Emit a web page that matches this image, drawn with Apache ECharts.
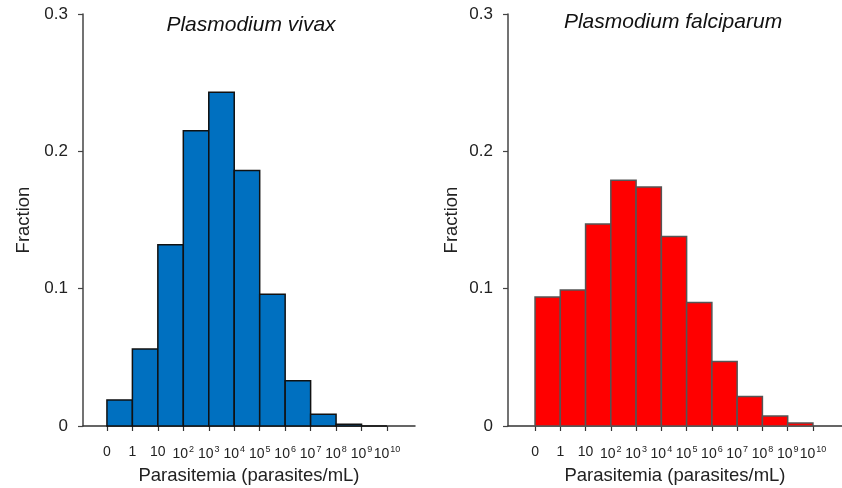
<!DOCTYPE html>
<html>
<head>
<meta charset="utf-8">
<script src="https://cdn.jsdelivr.net/npm/echarts@6/dist/echarts.min.js"></script>
<style>
  html, body { margin: 0; padding: 0; background: #fff; }
  #chart { width: 842px; height: 488px; }
</style>
</head>
<body>
<div id="chart"></div>
<script>
// bin edges: 0, 1, 10, 10^2 ... 10^10 (superscript after ^)
var binLabels = ['0', '1', '10', '10^2', '10^3', '10^4', '10^5', '10^6', '10^7', '10^8', '10^9', '10^10']
// fraction per bin (11 bins between the 12 edges)
var vivaxValues = [0.019, 0.056, 0.132, 0.215, 0.243, 0.186, 0.096, 0.033, 0.0085, 0.0012, 0]
var falciparumValues = [0.094, 0.099, 0.147, 0.179, 0.174, 0.138, 0.090, 0.047, 0.0215, 0.0073, 0.0022]
var titles = ['Plasmodium vivax', 'Plasmodium falciparum']
var yTicks = [0, 0.1, 0.2, 0.3]

var font = '"Liberation Sans", Arial, Helvetica, sans-serif'
var edgeIdx = binLabels.map(function (d, i) { return i })

function fmtEdge(v) {
  var s = binLabels[Math.round(v)]
  if (s === undefined) return ''
  var p = s.split('^')
  return p.length > 1 ? '{b|' + p[0] + '}{s|' + p[1] + '}' : '{b|' + s + '}'
}

function toData(arr) {
  return arr.map(function (v, i) { return [i, v] })
}

function histItem(fill, stroke) {
  return function (params, api) {
    var i = api.value(0)
    var v = api.value(1)
    var p0 = api.coord([i, v])
    var p1 = api.coord([i + 1, 0])
    return {
      type: 'rect',
      shape: { x: p0[0], y: p0[1], width: p1[0] - p0[0], height: p1[1] - p0[1] },
      style: { fill: fill, stroke: stroke, lineWidth: 1.5 }
    }
  }
}

function xAxisFor(idx, min, max) {
  return {
    type: 'value',
    gridIndex: idx,
    min: min,
    max: max,
    splitLine: { show: false },
    axisLine: { show: true, onZero: false, lineStyle: { color: '#333', width: 1.5 } },
    axisTick: { show: true, customValues: edgeIdx, length: 5, lineStyle: { color: '#333', width: 1.2 } },
    axisLabel: {
      customValues: edgeIdx,
      margin: 19,
      formatter: fmtEdge,
      rich: {
        b: { fontFamily: font, fontSize: 14, color: '#222' },
        s: { fontFamily: font, fontSize: 9, color: '#222', padding: [0, 0, 10, 1] }
      }
    },
    name: 'Parasitemia (parasites/mL)',
    nameLocation: 'middle',
    nameGap: 40,
    nameTextStyle: { fontFamily: font, fontSize: 18.5, color: '#222' }
  }
}

function yAxisFor(idx, gap) {
  return {
    type: 'value',
    gridIndex: idx,
    min: 0,
    max: 0.3,
    interval: 0.1,
    splitLine: { show: false },
    axisLine: { show: true, onZero: false, lineStyle: { color: '#444', width: 1.5 } },
    axisTick: { show: true, length: 5, lineStyle: { color: '#444', width: 1.2 } },
    axisLabel: {
      margin: 15,
      fontFamily: font,
      fontSize: 17,
      color: '#222',
      formatter: function (v) { return yTicks.indexOf(v) < 0 ? '' : (v === 0 ? '0' : v.toFixed(1)) }
    },
    name: 'Fraction',
    nameLocation: 'middle',
    nameGap: gap,
    nameTextStyle: { fontFamily: font, fontSize: 18.5, color: '#222' }
  }
}

var chart = echarts.init(document.getElementById('chart'), null, { renderer: 'canvas' })
chart.setOption({
  animation: false,
  backgroundColor: '#fff',
  title: [
    { text: titles[0], left: 246, top: 10, textAlign: 'center',
      textStyle: { fontFamily: font, fontSize: 21, fontStyle: 'italic', fontWeight: 'normal', color: '#111' } },
    { text: titles[1], left: 668, top: 7, textAlign: 'center',
      textStyle: { fontFamily: font, fontSize: 21, fontStyle: 'italic', fontWeight: 'normal', color: '#111' } }
  ],
  grid: [
    { left: 83, top: 14, width: 332, height: 412, containLabel: false, outerBoundsMode: 'none' },
    { left: 508, top: 14, width: 334, height: 412, containLabel: false, outerBoundsMode: 'none' }
  ],
  xAxis: [xAxisFor(0, -0.94, 12.1), xAxisFor(1, -1.07, 12.15)],
  yAxis: [yAxisFor(0, 50), yAxisFor(1, 47)],
  series: [
    { type: 'custom', xAxisIndex: 0, yAxisIndex: 0, renderItem: histItem('#0070c0', '#111'), data: toData(vivaxValues) },
    { type: 'custom', xAxisIndex: 1, yAxisIndex: 1, renderItem: histItem('#ff0000', '#555'), data: toData(falciparumValues) }
  ]
})
</script>
</body>
</html>
